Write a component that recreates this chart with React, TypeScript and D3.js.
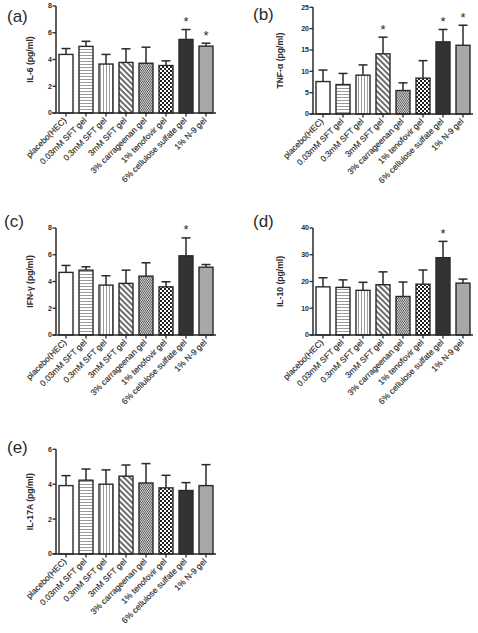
import React from "react";
import * as d3 from "d3";

const categories = [
  "placebo(HEC)",
  "0.03mM SFT gel",
  "0.3mM SFT gel",
  "3mM SFT gel",
  "3% carrageenan gel",
  "1% tenofovir gel",
  "6% cellulose sulfate gel",
  "1% N-9 gel",
];

const il6Mean = [4.38, 4.98, 3.66, 3.78, 3.72, 3.55, 5.5, 5.0];
const il6Err = [0.44, 0.38, 0.72, 1.02, 1.2, 0.35, 0.74, 0.22];
const il6Stars = [6, 7];
const il6Ticks = [0, 2, 4, 6, 8];

const tnfMean = [7.6, 6.9, 9.1, 14.1, 5.5, 8.4, 16.9, 16.1];
const tnfErr = [2.7, 2.6, 2.4, 3.9, 1.8, 4.1, 2.9, 4.7];
const tnfStars = [3, 6, 7];
const tnfTicks = [0, 5, 10, 15, 20, 25];

const ifnMean = [4.68, 4.85, 3.73, 3.86, 4.4, 3.6, 5.92, 5.07];
const ifnErr = [0.52, 0.25, 0.7, 0.99, 1.0, 0.38, 1.34, 0.2];
const ifnStars = [6];
const ifnTicks = [0, 2, 4, 6, 8];

const il10Mean = [18.0, 17.8, 16.7, 18.8, 14.4, 19.0, 28.9, 19.4];
const il10Err = [3.4, 2.8, 3.0, 4.8, 5.4, 5.3, 6.1, 1.5];
const il10Stars = [6];
const il10Ticks = [0, 10, 20, 30, 40];

const il17Mean = [3.92, 4.23, 4.0, 4.46, 4.07, 3.79, 3.64, 3.92];
const il17Err = [0.57, 0.64, 0.82, 0.64, 1.11, 0.72, 0.45, 1.2];
const il17Stars: number[] = [];
const il17Ticks = [0, 2, 4, 6];

const fills = [
  "#ffffff",
  "url(#pH)",
  "url(#pV)",
  "url(#pD)",
  "url(#pG)",
  "url(#pC)",
  "#333333",
  "#a8a8a8",
];

const FONT = "'Liberation Sans', Arial, Helvetica, sans-serif";
const INK = "#2a2a2a";

type PanelDef = {
  label: string;
  title: string;
  means: number[];
  errs: number[];
  stars: number[];
  ticks: number[];
  ax: number;
  y0: number;
  yTop: number;
  lx: number;
  ly: number;
};

const panels: PanelDef[] = [
  { label: "(a)", title: "IL-6 (pg/ml)", means: il6Mean, errs: il6Err, stars: il6Stars, ticks: il6Ticks, ax: 56, y0: 113, yTop: 6, lx: 7, ly: 22 },
  { label: "(b)", title: "TNF-\u03b1 (pg/ml)", means: tnfMean, errs: tnfErr, stars: tnfStars, ticks: tnfTicks, ax: 313, y0: 114, yTop: 7.3, lx: 253, ly: 20 },
  { label: "(c)", title: "IFN-\u03b3 (pg/ml)", means: ifnMean, errs: ifnErr, stars: ifnStars, ticks: ifnTicks, ax: 56, y0: 335, yTop: 228, lx: 4, ly: 227 },
  { label: "(d)", title: "IL-10 (pg/ml)", means: il10Mean, errs: il10Err, stars: il10Stars, ticks: il10Ticks, ax: 313, y0: 335, yTop: 228, lx: 253, ly: 227 },
  { label: "(e)", title: "IL-17A (pg/ml)", means: il17Mean, errs: il17Err, stars: il17Stars, ticks: il17Ticks, ax: 56, y0: 554, yTop: 449.3, lx: 7, ly: 453 },
];

function Panel({ p }: { p: PanelDef }) {
  const max = p.ticks[p.ticks.length - 1];
  const y = d3.scaleLinear().domain([0, max]).range([p.y0, p.yTop]);
  const x = d3
    .scaleBand<string>()
    .domain(categories)
    .range([p.ax, p.ax + 160])
    .paddingInner(0.3)
    .paddingOuter(0.15);
  const bw = x.bandwidth();
  const wide = max >= 10;
  return (
    <g>
      <text x={p.lx} y={p.ly} fontFamily={FONT} fontSize={17} fill={INK}>
        {p.label}
      </text>
      <text
        transform={`translate(${p.ax - (wide ? 30 : 23)},${(p.y0 + p.yTop) / 2}) rotate(-90)`}
        textAnchor="middle"
        fontFamily={FONT}
        fontSize={8.6}
        fontWeight="bold"
        fill={INK}
      >
        {p.title}
      </text>
      {categories.map((c, i) => {
        const cx = (x(c) as number) + bw / 2;
        const top = y(p.means[i]);
        const et = y(p.means[i] + p.errs[i]);
        return (
          <g key={c}>
            <line x1={cx} x2={cx} y1={top} y2={et} stroke={INK} strokeWidth={1.5} />
            <line x1={cx - 4.5} x2={cx + 4.5} y1={et} y2={et} stroke={INK} strokeWidth={1.5} />
            <rect
              x={x(c) as number}
              y={top}
              width={bw}
              height={p.y0 - top}
              fill={fills[i]}
              stroke={INK}
              strokeWidth={1.4}
            />
            {p.stars.includes(i) && (
              <text x={cx} y={et - 3.5} textAnchor="middle" fontFamily={FONT} fontSize={13} fill={INK}>
                *
              </text>
            )}
            <line x1={cx} x2={cx} y1={p.y0} y2={p.y0 + 3.5} stroke={INK} strokeWidth={1.3} />
            <text
              transform={`translate(${cx + 1},${p.y0 + 8}) rotate(-45)`}
              textAnchor="end"
              fontFamily={FONT}
              fontSize={8.4}
              fill={INK}
              stroke={INK}
              strokeWidth={0.15}
            >
              {c}
            </text>
          </g>
        );
      })}
      <line x1={p.ax} x2={p.ax} y1={p.yTop} y2={p.y0} stroke={INK} strokeWidth={1.5} />
      <line x1={p.ax - 3.5} x2={p.ax + 160} y1={p.y0} y2={p.y0} stroke={INK} strokeWidth={1.5} />
      {p.ticks.map((t) => (
        <g key={t}>
          <line x1={p.ax - 3.5} x2={p.ax} y1={y(t)} y2={y(t)} stroke={INK} strokeWidth={1.3} />
          <text
            x={p.ax - 4}
            y={y(t)}
            dy="0.35em"
            textAnchor="end"
            fontFamily={FONT}
            fontSize={7}
            fontWeight="bold"
            fill={INK}
          >
            {t}
          </text>
        </g>
      ))}
    </g>
  );
}

export default function App() {
  return (
    <svg
      width={478}
      height={633}
      style={{ position: "absolute", left: 0, top: 0, background: "#fff" }}
    >
      <defs>
        <pattern id="pH" width={4} height={3} patternUnits="userSpaceOnUse">
          <rect width={4} height={3} fill="#fff" />
          <line x1={0} x2={4} y1={1.5} y2={1.5} stroke="#9a9a9a" strokeWidth={1} />
        </pattern>
        <pattern id="pV" width={3} height={4} patternUnits="userSpaceOnUse">
          <rect width={3} height={4} fill="#fff" />
          <line x1={1.5} x2={1.5} y1={0} y2={4} stroke="#9a9a9a" strokeWidth={1} />
        </pattern>
        <pattern id="pD" width={4} height={4} patternUnits="userSpaceOnUse" patternTransform="rotate(45)">
          <rect width={4} height={4} fill="#fff" />
          <line x1={0} x2={4} y1={2} y2={2} stroke="#1e1e1e" strokeWidth={1.3} />
        </pattern>
        <pattern id="pG" width={2} height={3} patternUnits="userSpaceOnUse">
          <rect width={2} height={3} fill="#c4c4c4" />
          <rect x={0} y={0} width={1} height={1} fill="#6a6a6a" />
          <rect x={1} y={1} width={1} height={1} fill="#6a6a6a" />
          <rect x={0} y={2} width={2} height={1} fill="#a0a0a0" />
        </pattern>
        <pattern id="pC" width={4} height={4} patternUnits="userSpaceOnUse">
          <rect width={4} height={4} fill="#fff" />
          <rect x={0} y={0} width={2} height={2} fill="#1e1e1e" />
          <rect x={2} y={2} width={2} height={2} fill="#1e1e1e" />
        </pattern>
      </defs>
      {panels.map((p) => (
        <Panel key={p.label} p={p} />
      ))}
    </svg>
  );
}
